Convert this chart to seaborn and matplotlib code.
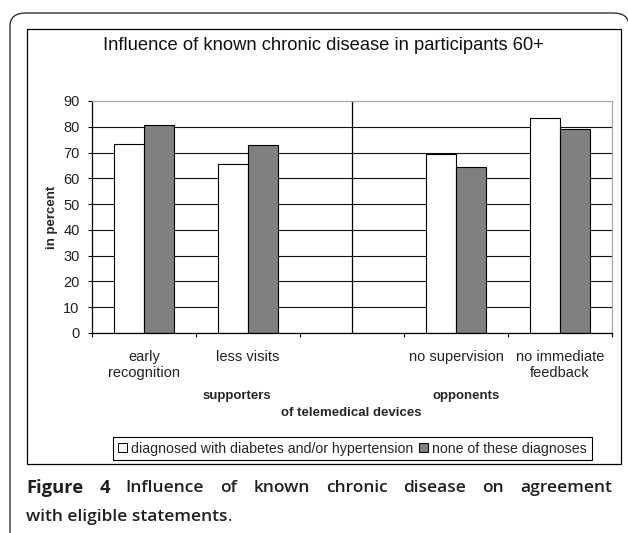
import pandas as pd
import matplotlib.pyplot as plt
import seaborn as sns
from matplotlib.patches import Patch, FancyBboxPatch, Rectangle

# data
categories = ['early\nrecognition', 'less visits', ' ', 'no supervision', 'no immediate\nfeedback']
groups = ['diagnosed with diabetes and/or hypertension', 'none of these diagnoses']
diagnosed = [73.5, 65.7, None, 69.6, 83.4]
none_diag = [80.6, 72.9, None, 64.5, 79.3]
yticks = list(range(0, 100, 10))

sns.set_style('white')
plt.rcParams['font.family'] = ['Liberation Sans', 'DejaVu Sans']

W, H = 628, 533
fig = plt.figure(figsize=(W / 100, H / 100), dpi=100)


def fx(x):
    return x / W


def fy(y):
    return 1 - y / H


# outer rounded frame (cut off by the image edge) and inner chart frame
fig.patches.append(FancyBboxPatch((fx(10), fy(560)), fx(619), fy(13) - fy(560),
                                  boxstyle='round,pad=0,rounding_size=0.025',
                                  transform=fig.transFigure, fill=False,
                                  edgecolor='#333333', lw=1.0))
fig.patches.append(Rectangle((fx(26.5), fy(463.5)), fx(620.5) - fx(26.5), fy(28.5) - fy(463.5),
                             transform=fig.transFigure, fill=False,
                             edgecolor='black', lw=0.9))

ax = fig.add_axes([fx(92), fy(333), fx(612) - fx(92), fy(101) - fy(333)])

rows = []
for cat, a, b in zip(categories, diagnosed, none_diag):
    if a is not None:
        rows.append({'cat': cat, 'group': groups[0], 'value': a})
        rows.append({'cat': cat, 'group': groups[1], 'value': b})
df = pd.DataFrame(rows)

sns.barplot(data=df, x='cat', y='value', hue='group', order=categories,
            hue_order=groups, palette=['white', '#808080'], width=0.58,
            edgecolor='black', linewidth=0.8, saturation=1, legend=False, ax=ax)

ax.set_xlim(-0.5, len(categories) - 0.5)
ax.set_ylim(0, 90)
ax.set_yticks(yticks)
ax.set_yticklabels([str(t) for t in yticks], fontsize=10.5, color='#222222')
ax.yaxis.grid(True, color='#111111', lw=0.8)
ax.get_ygridlines()[-1].set_visible(False)
ax.set_axisbelow(True)

# category boundaries as ticks, labels at centres
ax.set_xticks([i - 0.5 for i in range(len(categories) + 1)])
ax.set_xticklabels([])
ax.set_xticks(range(len(categories)), minor=True)
ax.set_xticklabels(categories, minor=True, fontsize=10.5, color='#222222', linespacing=1.2)
ax.tick_params(axis='x', which='major', direction='out', length=3, width=0.8, color='black', bottom=True)
ax.tick_params(axis='x', which='minor', length=0, pad=12)
ax.tick_params(axis='y', direction='out', length=3, width=0.8, color='black', left=True, pad=6)
ax.set_xlabel('')
ax.set_ylabel('in percent', fontsize=9.5, fontweight='bold', labelpad=4)

for side in ['left', 'bottom']:
    ax.spines[side].set_color('black')
    ax.spines[side].set_linewidth(0.9)
for side in ['top', 'right']:
    ax.spines[side].set_visible(True)
    ax.spines[side].set_color('#a8a8a8')
    ax.spines[side].set_linewidth(0.9)

ax.axvline(2, color='black', lw=0.9)

fig.text(fx(323.5), fy(46), 'Influence of known chronic disease in participants 60+',
         ha='center', va='center', fontsize=13.2, color='#111111')
fig.text(fx(237), fy(396), 'supporters', ha='center', va='center', fontsize=9.5, fontweight='bold')
fig.text(fx(466), fy(396), 'opponents', ha='center', va='center', fontsize=9.5, fontweight='bold')
fig.text(fx(351), fy(413), 'of telemedical devices', ha='center', va='center', fontsize=9.5, fontweight='bold')

handles = [Patch(facecolor='white', edgecolor='black', lw=0.7),
           Patch(facecolor='#808080', edgecolor='black', lw=0.7)]
leg = fig.legend(handles, groups, loc='center', bbox_to_anchor=(fx(352.5), fy(448.5)),
                 ncol=2, fontsize=10.2, frameon=True, fancybox=False, framealpha=1,
                 edgecolor='black', handlelength=0.6, handleheight=0.6,
                 handletextpad=0.3, columnspacing=0.4, borderpad=0.35, borderaxespad=0)
leg.get_frame().set_linewidth(0.8)

# caption, first line justified between the frame edges
cap_font = ['Open Sans', 'DejaVu Sans']
cap_color = '#231f20'
line1 = [('Figure', 'bold'), ('4', 'bold'), ('Influence', 'semibold'), ('of', 'semibold'),
         ('known', 'semibold'), ('chronic', 'semibold'), ('disease', 'semibold'),
         ('on', 'semibold'), ('agreement', 'semibold')]
renderer = fig.canvas.get_renderer()
words = []
for w, wt in line1:
    size = 13.2 if wt == 'bold' else 12.5
    tw = fig.text(0, fy(488), w, ha='left', va='center', fontsize=size,
                  fontweight=wt, family=cap_font, color=cap_color)
    words.append(tw)
widths = [tw.get_window_extent(renderer).width for tw in words]
gap = (612 - 26 - sum(widths)) / (len(words) - 1)
x = 26
for tw, wd in zip(words, widths):
    tw.set_x(fx(x))
    x += wd + gap

t = fig.text(fx(26), fy(517), 'with eligible statements', ha='left', va='center', fontsize=12.5,
             fontweight='semibold', family=cap_font, color=cap_color)
bb = t.get_window_extent(renderer)
fig.text(bb.x1 / W, fy(517), '.', ha='left', va='center', fontsize=12.5,
         family=cap_font, color=cap_color)

fig.savefig('out.png', dpi=100)
